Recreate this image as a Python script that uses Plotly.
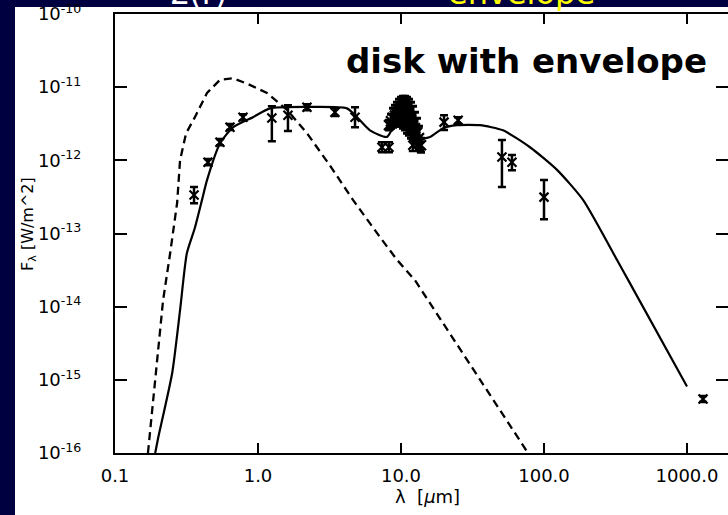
import plotly.graph_objects as go

# ---- model curves (wavelength in micron, flux in W/m^2) ----
star_lam = [0.170, 0.191, 0.217, 0.243, 0.272, 0.285, 0.314, 0.362, 0.440, 0.542, 0.668,
            0.838, 1.156, 1.596, 2.203, 3.184, 4.613, 7.129, 9.376, 12.5, 77.3]
star_flux = [1.0e-16, 1.0e-15, 1.23e-14, 5.37e-14, 2.63e-13, 1.0e-12, 2.34e-12, 3.89e-12, 8.32e-12,
             1.26e-11, 1.32e-11, 1.12e-11, 8.32e-12, 4.90e-12, 2.34e-12, 8.51e-13, 2.88e-13,
             8.91e-14, 4.37e-14, 2.31e-14, 1.0e-16]

model_lam = [0.191, 0.200, 0.251, 0.285, 0.318, 0.362, 0.406, 0.440, 0.542, 0.668,
             0.923, 1.213, 2.427, 4.188, 4.920, 6.067, 7.980, 9.078, 11.02, 12.94,
             15.96, 19.68, 24.66, 35.65, 51.64, 79.8, 123.3, 187.5, 323.6, 386.4, 1000]
model_flux = [1.0e-16, 1.58e-16, 1.23e-15, 8.9e-15, 5.37e-14, 1.2e-13, 2.88e-13, 5.37e-13, 1.70e-12, 2.82e-12,
              3.89e-12, 5.13e-12, 5.37e-12, 5.13e-12, 3.89e-12, 2.57e-12, 2.09e-12, 3.24e-12, 6.03e-12, 2.00e-12,
              2.09e-12, 2.75e-12, 3.02e-12, 3.02e-12, 2.57e-12, 1.51e-12, 7.41e-13, 2.88e-13, 4.37e-14, 2.34e-14,
              8.13e-16]

# ---- photometry ----
obs_lam = [0.357, 0.447, 0.542, 0.637, 0.785, 1.25, 1.62, 2.20, 3.45, 4.77,
           7.36, 8.24, 12.1, 13.6, 20.0, 25.1, 50.8, 59.7, 100, 1294]
obs_flux = [3.35e-13, 9.44e-13, 1.77e-12, 2.84e-12, 3.89e-12, 3.78e-12, 4.14e-12, 5.33e-12, 4.55e-12, 3.89e-12,
            1.51e-12, 1.51e-12, 1.61e-12, 1.61e-12, 3.33e-12, 3.54e-12, 1.11e-12, 9.44e-13, 3.14e-13, 5.47e-16]
obs_hi = [4.31e-13, 1.04e-12, 1.95e-12, 3.13e-12, 4.28e-12, 5.50e-12, 5.68e-12, 5.86e-12, 5.16e-12, 5.33e-12,
          1.77e-12, 1.77e-12, 1.95e-12, 1.95e-12, 4.14e-12, 3.89e-12, 1.89e-12, 1.18e-12, 5.37e-13, 6.01e-16]
obs_lo = [2.60e-13, 8.59e-13, 1.61e-12, 2.59e-12, 3.54e-12, 1.83e-12, 2.51e-12, 4.85e-12, 4.02e-12, 2.84e-12,
          1.29e-12, 1.29e-12, 1.34e-12, 1.34e-12, 2.59e-12, 3.13e-12, 4.31e-13, 7.34e-13, 1.57e-13, 4.98e-16]

# ---- 10 micron spectrum ----
spec_lam = [8.245, 8.513, 8.792, 9.078, 9.376, 9.683, 10.0, 10.33, 10.67, 11.02, 11.37,
            11.75, 12.13, 12.53, 12.94, 13.36, 13.80]
spec_flux = [3.03e-12, 3.43e-12, 3.83e-12, 4.08e-12, 4.35e-12, 4.55e-12, 4.63e-12, 4.55e-12, 4.41e-12,
             4.14e-12, 3.89e-12, 3.54e-12, 3.17e-12, 2.75e-12, 2.39e-12, 2.01e-12, 1.61e-12]
spec_hi = [3.54e-12, 4.28e-12, 5.16e-12, 5.68e-12, 6.24e-12, 6.86e-12, 7.30e-12, 7.53e-12, 7.53e-12,
           7.30e-12, 6.86e-12, 6.24e-12, 5.50e-12, 4.55e-12, 3.77e-12, 2.93e-12, 2.01e-12]
spec_lo = [2.59e-12, 2.75e-12, 2.84e-12, 2.93e-12, 3.03e-12, 3.03e-12, 2.93e-12, 2.75e-12, 2.59e-12,
           2.35e-12, 2.21e-12, 2.01e-12, 1.83e-12, 1.66e-12, 1.51e-12, 1.38e-12, 1.29e-12]

x_ticks = [0.1, 1, 10, 100, 1000]
x_ticktext = ["0.1", "1.0", "10.0", "100.0", "1000.0"]
y_ticks = [1e-16, 1e-15, 1e-14, 1e-13, 1e-12, 1e-11, 1e-10]
y_ticktext = ["10<sup>-16</sup>", "10<sup>-15</sup>", "10<sup>-14</sup>", "10<sup>-13</sup>",
              "10<sup>-12</sup>", "10<sup>-11</sup>", "10<sup>-10</sup>"]

NAVY = "#000040"
W, H = 728, 515
ML, MR, MT, MB = 115, 0, 14, 62
PW, PH = W - ML - MR, H - MT - MB


def px(x):
    return (x - ML) / PW


def py(y):
    return (H - MB - y) / PH


fig = go.Figure()

fig.add_trace(go.Scatter(x=star_lam, y=star_flux, mode="lines",
                         line=dict(color="black", width=2.3, dash="8px,5px"),
                         hoverinfo="skip", showlegend=False))
fig.add_trace(go.Scatter(x=model_lam, y=model_flux, mode="lines",
                         line=dict(color="black", width=2.2, shape="spline", smoothing=0.6),
                         hoverinfo="skip", showlegend=False))


def add_points(lam, flux, hi, lo, size=9, thick=2.5):
    fig.add_trace(go.Scatter(
        x=lam, y=flux, mode="markers",
        marker=dict(symbol="x-thin", size=size, line=dict(color="black", width=2.2)),
        error_y=dict(type="data", symmetric=False,
                     array=[h - f for h, f in zip(hi, flux)],
                     arrayminus=[f - l for f, l in zip(flux, lo)],
                     color="black", thickness=thick, width=4),
        showlegend=False))


add_points(obs_lam, obs_flux, obs_hi, obs_lo)
add_points(spec_lam, spec_flux, spec_hi, spec_lo, size=10, thick=3)

# invisible trace to carry the mirrored right-hand ticks
fig.add_trace(go.Scatter(x=[obs_lam[-1]], y=[obs_flux[-1]], yaxis="y2", mode="markers",
                         marker=dict(opacity=0), hoverinfo="skip", showlegend=False))

tickfont = dict(family="DejaVu Sans", size=18, color="black")

fig.update_layout(
    width=W, height=H,
    margin=dict(l=ML, r=MR, t=MT, b=MB, pad=0),
    paper_bgcolor=NAVY, plot_bgcolor="white",
    xaxis=dict(type="log", range=[-1, -1 + PW / 143.0],
               tickvals=x_ticks, ticktext=x_ticktext, tickfont=tickfont,
               ticks="inside", ticklen=10, tickwidth=2, tickcolor="black",
               showline=True, linewidth=2, linecolor="black", mirror="ticks",
               showgrid=False, zeroline=False, ticklabelstandoff=5),
    yaxis=dict(type="log", range=[-16, -10],
               tickvals=y_ticks, ticktext=y_ticktext, tickfont=tickfont,
               ticks="inside", ticklen=12, tickwidth=2, tickcolor="black",
               showline=True, linewidth=2, linecolor="black", mirror=False,
               showgrid=False, zeroline=False, ticklabelstandoff=28),
    yaxis2=dict(type="log", range=[-16, -10], overlaying="y", side="right",
                tickvals=y_ticks, showticklabels=False,
                ticks="inside", ticklen=12, tickwidth=2, tickcolor="black",
                showline=False, showgrid=False, zeroline=False),
    shapes=[dict(type="rect", xref="paper", yref="paper", layer="below",
                 x0=px(15), x1=1.02, y0=py(530), y1=py(7),
                 fillcolor="white", line=dict(width=0))],
    annotations=[
        dict(text="<b>disk with envelope</b>", x=px(526), y=py(61), xref="paper", yref="paper",
             showarrow=False, xanchor="center", yanchor="middle",
             font=dict(family="DejaVu Sans", size=34, color="black")),
        dict(text="λ\u00a0\u00a0[<i>μ</i>m]", x=px(427), y=py(497), xref="paper", yref="paper",
             showarrow=False, xanchor="center", yanchor="middle",
             font=dict(family="DejaVu Sans", size=18, color="black")),
        dict(text="F<sub>λ</sub> [W/m^2]", x=px(29), y=py(224), xref="paper", yref="paper",
             showarrow=False, xanchor="center", yanchor="middle", textangle=-90,
             font=dict(family="DejaVu Sans", size=16, color="black")),
        dict(text="Σ(r)", x=px(198), y=py(13.5), xref="paper", yref="paper",
             showarrow=False, xanchor="center", yanchor="bottom",
             font=dict(family="DejaVu Sans", size=32, color="white")),
        dict(text="envelope", x=px(521), y=py(13.5), xref="paper", yref="paper",
             showarrow=False, xanchor="center", yanchor="bottom",
             font=dict(family="DejaVu Sans", size=32, color="#FFFF00")),
    ],
)

fig.write_html("out.html")
